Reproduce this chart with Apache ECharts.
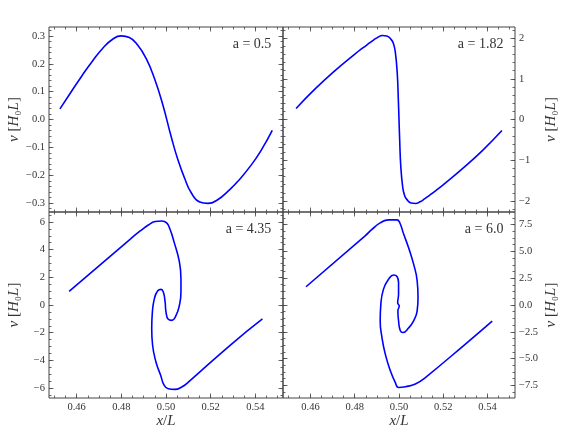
<!DOCTYPE html>
<html>
<head>
<meta charset="utf-8">
<script src="https://cdn.jsdelivr.net/npm/echarts@6/dist/echarts.min.js"></script>
<style>
  html, body { margin: 0; padding: 0; background: #fff; }
  #chart { width: 565px; height: 435px; }
</style>
</head>
<body>
<div id="chart"></div>
<script>
// values (x/L, v in H0 L)
const xTicks = [0.46, 0.48, 0.50, 0.52, 0.54];
const xTickLabels = ['0.46', '0.48', '0.50', '0.52', '0.54'];

const yTicksA = [-0.3, -0.2, -0.1, 0, 0.1, 0.2, 0.3];
const yTickLabelsA = ['−0.3', '−0.2', '−0.1', '0.0', '0.1', '0.2', '0.3'];
const yTicksB = [-2, -1, 0, 1, 2];
const yTickLabelsB = ['−2', '−1', '0', '1', '2'];
const yTicksC = [-6, -4, -2, 0, 2, 4, 6];
const yTickLabelsC = ['−6', '−4', '−2', '0', '2', '4', '6'];
const yTicksD = [-7.5, -5, -2.5, 0, 2.5, 5, 7.5];
const yTickLabelsD = ['−7.5', '−5.0', '−2.5', '0.0', '2.5', '5.0', '7.5'];

const panelLabels = ['a = 0.5', 'a = 1.82', 'a = 4.35', 'a = 6.0'];

// a = 0.5
const xA = [0.4525, 0.4566, 0.4626, 0.4671, 0.4716, 0.4761, 0.4799, 0.4836, 0.4873, 0.4911, 0.4948, 0.4986,
            0.5023, 0.5053, 0.5083, 0.5113, 0.5151, 0.5188, 0.5233, 0.5278, 0.5323, 0.5383, 0.5428, 0.5476];
const vA = [0.038, 0.088, 0.160, 0.210, 0.255, 0.288, 0.300, 0.294, 0.267, 0.219, 0.148, 0.052,
            -0.061, -0.144, -0.210, -0.263, -0.296, -0.301, -0.287, -0.257, -0.221, -0.162, -0.108, -0.039];

// a = 1.82
const xB = [0.4535, 0.4621, 0.4711, 0.4802, 0.4835, 0.4862, 0.4885, 0.4905, 0.4925, 0.4945, 0.4965, 0.4975,
            0.4983, 0.4992, 0.4997, 0.5000, 0.5003, 0.5008, 0.5017, 0.5025, 0.5035, 0.5055, 0.5075, 0.5095,
            0.5115, 0.5138, 0.5165, 0.5198, 0.5288, 0.5379, 0.5465];
const vB = [0.27, 0.75, 1.20, 1.61, 1.75, 1.86, 1.95, 2.02, 2.06, 2.05, 1.96, 1.86,
            1.67, 1.14, 0.49, 0.0, -0.49, -1.14, -1.67, -1.86, -1.96, -2.05, -2.06, -2.02,
            -1.95, -1.86, -1.75, -1.61, -1.20, -0.75, -0.27];

// a = 4.35
const xC = [0.4566, 0.4839, 0.4883, 0.4921, 0.4951, 0.4981, 0.5003, 0.5018, 0.5036, 0.5060, 0.5067, 0.5067,
            0.5060, 0.5045, 0.5026, 0.5010, 0.5000, 0.4996, 0.4988, 0.4978, 0.4963, 0.4948, 0.4939, 0.4936,
            0.4940, 0.4955, 0.4976, 0.4992, 0.5010, 0.5040, 0.5070, 0.5100, 0.5287, 0.5432];
const vC = [0.99, 4.75, 5.33, 5.78, 6.03, 6.07, 5.93, 5.47, 4.56, 3.11, 1.90, 0.94,
            -0.02, -0.75, -1.11, -1.03, -0.51, 0.22, 0.94, 1.13, 1.03, 0.46, -0.51, -1.71,
            -2.91, -4.12, -5.08, -5.81, -6.05, -6.10, -5.93, -5.57, -2.91, -1.01];

// a = 6.0
const xD = [0.4580, 0.4847, 0.4878, 0.4915, 0.4953, 0.4991, 0.5003, 0.5021, 0.5043, 0.5066, 0.5082, 0.5086,
            0.5082, 0.5066, 0.5043, 0.5018, 0.5006, 0.4998, 0.4995, 0.5001, 0.4994, 0.4998, 0.4998, 0.4991,
            0.4976, 0.4953, 0.4930, 0.4918, 0.4915, 0.4923, 0.4938, 0.4961, 0.4983, 0.4998, 0.5029, 0.5074,
            0.5119, 0.5300, 0.5421];
const vD = [1.70, 6.45, 7.05, 7.66, 7.94, 7.94, 7.69, 6.61, 5.36, 3.81, 2.26, 0.70,
            -0.54, -1.47, -2.15, -2.56, -2.40, -1.47, -0.54, -0.10, 0.20, 1.02, 2.10, 2.66,
            2.79, 2.41, 1.48, 0.08, -1.47, -3.03, -4.58, -6.13, -7.22, -7.69, -7.62, -7.37,
            -6.76, -3.64, -1.50];

const xMin = 0.4476, xMax = 0.5524;
const axisColor = '#444';
const textColor = '#333';
const serif = '"Liberation Serif", "DejaVu Serif", serif';

const panels = [
  { x: xA, v: vA, ticks: yTicksA, labels: yTickLabelsA, yMax: 0.332, minor: 0.02, side: 'left', row: 0, box: [49, 27, 234, 185] },
  { x: xB, v: vB, ticks: yTicksB, labels: yTickLabelsB, yMax: 2.27, minor: 0.2, side: 'right', row: 0, box: [283, 27, 232, 185] },
  { x: xC, v: vC, ticks: yTicksC, labels: yTickLabelsC, yMax: 6.72, minor: 0.5, side: 'left', row: 1, box: [49, 212, 234, 186] },
  { x: xD, v: vD, ticks: yTicksD, labels: yTickLabelsD, yMax: 8.67, minor: 0.625, side: 'right', row: 1, box: [283, 212, 232, 186] }
];

function minorTicks(step, min, max) {
  const out = [];
  for (let k = Math.ceil(min / step); k * step <= max; k++) out.push(+(k * step).toFixed(6));
  return out.filter(v => v > min && v < max);
}

const richIt = { fontStyle: 'italic', fontFamily: serif, fontSize: 15, color: textColor };

function makeAxis(gridIndex, position, min, max, ticks, len, labels, name) {
  const axis = {
    type: 'value', gridIndex, position, min, max,
    axisLine: { show: false, onZero: false },
    splitLine: { show: false },
    axisTick: { show: true, inside: true, length: len, customValues: ticks,
                lineStyle: { color: axisColor, width: 0.8 } },
    axisLabel: { show: false }
  };
  if (labels) {
    axis.axisLabel = {
      show: true, customValues: ticks, margin: 4,
      fontFamily: serif, fontSize: 10.5, color: textColor,
      formatter: val => labels[ticks.findIndex(t => Math.abs(t - val) < 1e-9)] || ''
    };
  }
  if (name) Object.assign(axis, name);
  return axis;
}

const grids = [], xAxes = [], yAxes = [], series = [], graphics = [];

panels.forEach((p, i) => {
  const [l, t, w, h] = p.box;
  grids.push({ left: l, top: t, width: w, height: h, show: true,
               borderColor: axisColor, borderWidth: 1, backgroundColor: 'transparent' });

  const xi = xAxes.length;
  ['bottom', 'top'].forEach(pos => {
    const lab = pos === 'bottom' && p.row === 1;
    xAxes.push(makeAxis(i, pos, xMin, xMax, xTicks, 4.5, lab ? xTickLabels : null, lab ? {
      name: '{it|x}/{it|L}', nameLocation: 'middle', nameGap: 16,
      nameTextStyle: { fontFamily: serif, fontSize: 15, color: textColor, rich: { it: richIt } }
    } : null));
    xAxes.push(makeAxis(i, pos, xMin, xMax, minorTicks(0.005, xMin, xMax), 2.5, null, null));
  });

  const yi = yAxes.length;
  ['left', 'right'].forEach(pos => {
    const lab = pos === p.side;
    yAxes.push(makeAxis(i, pos, -p.yMax, p.yMax, p.ticks, 4.5, lab ? p.labels : null, lab ? {
      name: '{it|v} [{it|H}₀{it|L}]', nameLocation: 'middle', nameRotate: 90,
      nameGap: pos === 'left' ? 27 : 29,
      nameTextStyle: { fontFamily: serif, fontSize: 15, color: textColor, rich: { it: richIt } }
    } : null));
    yAxes.push(makeAxis(i, pos, -p.yMax, p.yMax, minorTicks(p.minor, -p.yMax, p.yMax), 2.5, null, null));
  });

  series.push({
    type: 'line', xAxisIndex: xi, yAxisIndex: yi,
    data: p.x.map((x, k) => [x, p.v[k]]),
    showSymbol: false, smooth: 0.5, silent: true,
    lineStyle: { color: '#0000ff', width: 1.6 }
  });

  graphics.push({
    type: 'text', x: l + 0.95 * w, y: t + 17, silent: true,
    style: { text: panelLabels[i], align: 'right', verticalAlign: 'middle',
             fontFamily: serif, fontSize: 14, fill: textColor }
  });
});

const chart = echarts.init(document.getElementById('chart'));
chart.setOption({
  animation: false,
  backgroundColor: '#fff',
  grid: grids,
  xAxis: xAxes,
  yAxis: yAxes,
  series: series,
  graphic: graphics
});
</script>
</body>
</html>
